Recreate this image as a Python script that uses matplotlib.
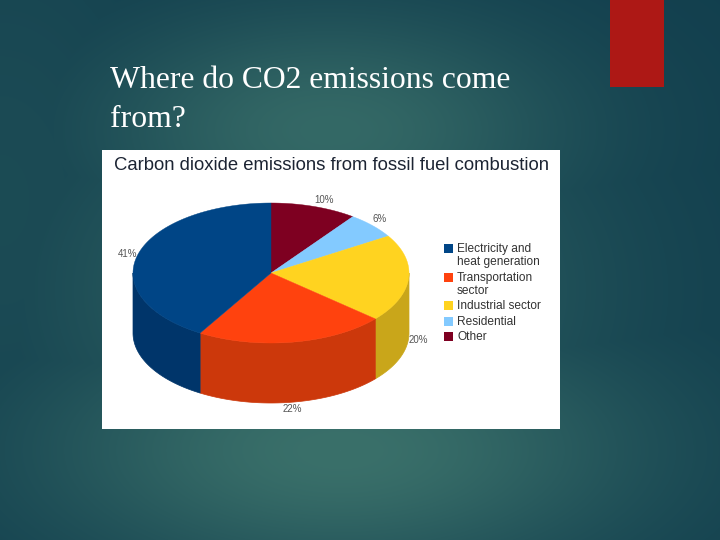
"""Slide with a 3D pie chart of CO2 emissions by source, drawn in pixel coordinates."""
import matplotlib.pyplot as plt
import numpy as np
from matplotlib.patches import Polygon, Rectangle

SLIDE_TITLE = ["Where do CO2 emissions come", "from?"]
CHART_TITLE = "Carbon dioxide emissions from fossil fuel combustion"

# clockwise from twelve o'clock
categories = ["Other", "Residential", "Industrial sector", "Transportation\nsector", "Electricity and\nheat generation"]
shares = [10, 6, 20, 22, 41]
top_colors = ["#7e0021", "#83caff", "#ffd320", "#ff420e", "#004586"]
side_colors = ["#5e0018", "#6298bf", "#c9a61a", "#cc380b", "#00356a"]
pct_labels = ["10%", "6%", "20%", "22%", "41%"]
label_pos = [(324, 200), (380, 219), (418, 340), (292, 409), (128, 254)]

legend_order = [4, 3, 2, 1, 0]
legend_rows = {4: 249, 3: 278, 2: 306, 1: 322, 0: 337}

CX, CY, RX, RY, DEPTH = 271, 273, 138, 70, 60


def rim(a0, a1):
    t = np.radians(np.linspace(a0, a1, max(int(a1 - a0) * 2, 2)))
    return CX + RX * np.sin(t), CY - RY * np.cos(t)


def background():
    y, x = np.mgrid[0:540, 0:720]
    glow = np.exp(-(((x - 340) / 300.0) ** 2 + ((y - 450) / 130.0) ** 2))
    glow = np.maximum(glow, 0.85 * np.exp(-(((x - 330) / 240.0) ** 2 + ((y - 130) / 120.0) ** 2)))
    glow = np.maximum(glow, 0.75 * np.exp(-(((x - 320) / 270.0) ** 2 + ((y - 290) / 200.0) ** 2)))
    glow = np.maximum(glow, 0.25 * np.exp(-((x / 200.0) ** 2 + ((y - 200) / 320.0) ** 2)))
    dark = np.array([0x12, 0x3f, 0x4e]) / 255
    light = np.array([0x3a, 0x70, 0x6a]) / 255
    return dark + glow[..., None] * (light - dark)


fig = plt.figure(figsize=(7.2, 5.4), dpi=100)
ax = fig.add_axes([0, 0, 1, 1])
ax.imshow(background(), extent=(0, 720, 540, 0), aspect="auto", zorder=0)
ax.set_xlim(0, 720)
ax.set_ylim(540, 0)
ax.axis("off")

ax.add_patch(Rectangle((610, 0), 54, 87, color="#ad1815", lw=0))
ax.add_patch(Rectangle((102, 150), 458, 279, color="white", lw=0))

for line, y in zip(SLIDE_TITLE, [88, 127]):
    ax.text(110, y, line, color="white", fontsize=22.8, family="Liberation Serif", va="baseline")
ax.text(114, 165, CHART_TITLE, color="#1c2433", fontsize=13.3, family="Liberation Sans", va="center")

edges = np.cumsum([0] + shares) / sum(shares) * 360

# side wall: only the front half of the rim (90 to 270 degrees) shows
for i, color in enumerate(side_colors):
    a0, a1 = max(edges[i], 90), min(edges[i + 1], 270)
    if a1 > a0:
        x, y = rim(a0, a1)
        pts = np.r_[np.c_[x, y], np.c_[x, y + DEPTH][::-1]]
        ax.add_patch(Polygon(pts, closed=True, fc=color, ec=color, lw=0.5))

for i, color in enumerate(top_colors):
    x, y = rim(edges[i], edges[i + 1])
    pts = np.r_[[[CX, CY]], np.c_[x, y]]
    ax.add_patch(Polygon(pts, closed=True, fc=color, ec=color, lw=0.3))

for text, (x, y) in zip(pct_labels, label_pos):
    ax.text(x, y, text, color="#555555", fontsize=7, family="Liberation Sans", ha="center", va="center")

for i in legend_order:
    y0 = legend_rows[i]
    ax.add_patch(Rectangle((444, y0 - 5), 9, 9, color=top_colors[i], lw=0))
    for j, line in enumerate(categories[i].split("\n")):
        ax.text(457, y0 + j * 13, line, color="#333333", fontsize=8.6, family="Liberation Sans", va="center")

fig.savefig("out.png", dpi=100)
